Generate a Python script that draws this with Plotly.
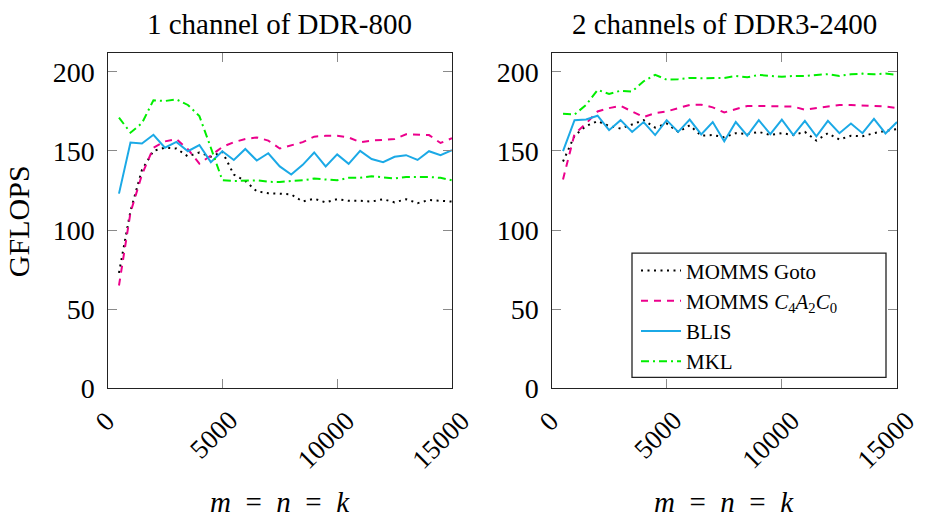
import plotly.graph_objects as go

# ---------------- data ----------------
sizes = [500, 1000, 1500, 2000, 2500, 3000, 3500, 4000, 4500, 5000,
         5500, 6000, 6500, 7000, 7500, 8000, 8500, 9000, 9500, 10000,
         10500, 11000, 11500, 12000, 12500, 13000, 13500, 14000, 14500, 15000]

# 1 channel of DDR-800
ddr800_goto = [73, 112, 138, 150, 152, 151.5, 146.5, 149, 146.3, 149.5,
               135, 131, 124.5, 123.3, 123, 122.5, 118, 119.8, 117.5, 119.5,
               118.5, 118.5, 118, 119.5, 117.5, 119.5, 117, 119, 118.5, 118]
ddr800_c4a2c0 = [65, 111, 135, 152, 156, 157.5, 151, 142, 147, 152.5,
                 155.5, 157.5, 158.5, 156.5, 151.5, 153.5, 155.5, 159, 159.5, 159.5,
                 158.5, 155.5, 156.5, 157, 157.5, 160.5, 160.3, 160, 155, 158]
ddr800_blis = [123, 155.3, 154.7, 160.2, 152, 155.7, 149.8, 153.7, 142.9, 149.8,
               144.3, 151.2, 143.9, 148.5, 140.2, 135.1, 141.2, 149, 140.2, 147.8,
               141.8, 150, 144.9, 142.9, 146.3, 147.3, 144.3, 149.8, 147.3, 150.4]
ddr800_mkl = [171, 161.5, 167.5, 182, 181.5, 182.5, 179, 172, 152, 131.5,
              131, 131, 131.4, 130.5, 130.3, 131, 131.4, 132.5, 132, 131.4,
              133, 133, 134, 133.5, 132.6, 133.5, 133.5, 133.5, 133, 131.4]

# 2 channels of DDR3-2400
ddr3_goto = [143.3, 159.6, 165.7, 168.8, 165.7, 164.1, 166.7, 169.4, 164.7, 167.3,
             162, 166.1, 159.6, 160, 158.6, 161.2, 160.6, 162, 160, 161.2,
             160, 162, 156.5, 161.2, 157.1, 159.6, 159.2, 161.2, 162.7, 163.7]
ddr3_c4a2c0 = [132, 160.6, 167.3, 174.9, 177, 178.4, 174.9, 171.4, 173.9, 174.9,
               177, 179, 179.2, 177.5, 174.3, 176.3, 178.4, 178.4, 178.4, 178.4,
               178, 176, 177, 178, 179, 179, 178.5, 178.4, 178, 177]
ddr3_blis = [149.8, 169.4, 169.8, 172.2, 163.1, 169.4, 162, 168.2, 160, 169.4,
             162, 169.8, 160.4, 168.2, 156.1, 168.2, 159.6, 169.4, 160.6, 169.8,
             160, 169, 159.2, 169, 161.2, 167.3, 161.2, 170.2, 161, 168.2]
ddr3_mkl = [173.5, 173, 179, 188.5, 186, 188, 187.5, 194, 198, 195,
            195.3, 196.1, 195.9, 195.9, 196, 197.3, 196.5, 198, 197.3, 196.8,
            197.3, 197.3, 198, 198.4, 197.3, 198.4, 198.8, 198.4, 198.8, 198]

series_names = ["MOMMS Goto",
                "MOMMS <i>C</i><sub>4</sub><i>A</i><sub>2</sub><i>C</i><sub>0</sub>",
                "BLIS", "MKL"]
panel_titles = ["1 channel of DDR-800", "2 channels of DDR3-2400"]
x_ticks = [0, 5000, 10000, 15000]
y_ticks = [0, 50, 100, 150, 200]
y_label = "GFLOPS"
x_label = "<i>m</i>&nbsp; = &nbsp;<i>n</i>&nbsp; = &nbsp;<i>k</i>"

# ---------------- styling ----------------
W, H = 929, 531
FONT = "Liberation Serif"
styles = [
    dict(color="#000000", width=2, dash="2px,4.5px"),
    dict(color="#EC008C", width=2, dash="7px,6px"),
    dict(color="#1BA9E6", width=2, dash="solid"),
    dict(color="#00EE00", width=2, dash="8px,4px,2px,4px"),
]

panels = [
    ([ddr800_goto, ddr800_c4a2c0, ddr800_blis, ddr800_mkl], "x", "y", (107.5, 452)),
    ([ddr3_goto, ddr3_c4a2c0, ddr3_blis, ddr3_mkl], "x2", "y2", (551.5, 897)),
]
y_top, y_bot = 55, 400.5

fig = go.Figure()
for pi, (data, xa, ya, _) in enumerate(panels):
    for si, vals in enumerate(data):
        fig.add_trace(go.Scatter(
            x=sizes, y=vals, mode="lines", name=series_names[si],
            line=styles[si], xaxis=xa, yaxis=ya,
            showlegend=(pi == 1),
        ))

axis_common = dict(showgrid=False, zeroline=False, showline=True, mirror="ticks",
                   linecolor="#222222", linewidth=1.3, ticks="inside", ticklen=9,
                   tickcolor="#8a8a8a", tickwidth=1)

layout_axes = {}
for pi, (_, xa, ya, (l, r)) in enumerate(panels):
    xname = "xaxis" if xa == "x" else "xaxis2"
    yname = "yaxis" if ya == "y" else "yaxis2"
    layout_axes[xname] = dict(axis_common, domain=[l / W, r / W], range=[0, 15000],
                              tickvals=x_ticks, showticklabels=False, anchor=ya)
    layout_axes[yname] = dict(axis_common, domain=[1 - y_bot / H, 1 - y_top / H],
                              range=[0, 211.6], tickvals=y_ticks,
                              ticktext=[str(v) for v in y_ticks],
                              tickfont=dict(family=FONT, size=28, color="black"),
                              ticklabelstandoff=6, anchor=xa)

annotations = []
for pi, (_, xa, ya, (l, r)) in enumerate(panels):
    cx = (l + r) / 2 / W
    annotations.append(dict(text=panel_titles[pi], x=cx, y=1 - 25 / H, xref="paper", yref="paper",
                            xanchor="center", yanchor="middle", showarrow=False,
                            font=dict(family=FONT, size=29, color="black")))
    annotations.append(dict(text=x_label, x=cx, y=1 - 518 / H, xref="paper", yref="paper",
                            xanchor="center", yanchor="middle", showarrow=False,
                            font=dict(family=FONT, size=29, color="black")))
    for v in x_ticks:
        t = str(v)
        annotations.append(dict(text=t, x=v, xref=xa, y=1 - 415 / H, yref="paper",
                                textangle=-45, xanchor="center", yanchor="top",
                                xshift=-2.2 * len(t), showarrow=False,
                                font=dict(family=FONT, size=27, color="black")))
annotations.append(dict(text=y_label, x=18 / W, y=1 - 228 / H, xref="paper", yref="paper",
                        textangle=-90, xanchor="center", yanchor="middle", showarrow=False,
                        font=dict(family=FONT, size=30, color="black")))

# legend frame (drawn as a box so its size matches the reference)
shapes = [dict(type="rect", xref="paper", yref="paper",
               x0=632 / W, x1=886 / W, y0=1 - 389 / H, y1=1 - 261 / H,
               line=dict(color="#222222", width=1.3), fillcolor="white", layer="above")]

fig.update_layout(
    width=W, height=H,
    margin=dict(l=0, r=0, t=0, b=0),
    paper_bgcolor="white", plot_bgcolor="white",
    showlegend=True,
    legend=dict(x=636 / W, y=1 - 258 / H, xanchor="left", yanchor="top",
                borderwidth=0, bgcolor="rgba(0,0,0,0)",
                font=dict(family=FONT, size=21, color="black"),
                itemwidth=40, tracegroupgap=0),
    annotations=annotations,
    shapes=shapes,
    **layout_axes,
)

fig.write_html("out.html")
